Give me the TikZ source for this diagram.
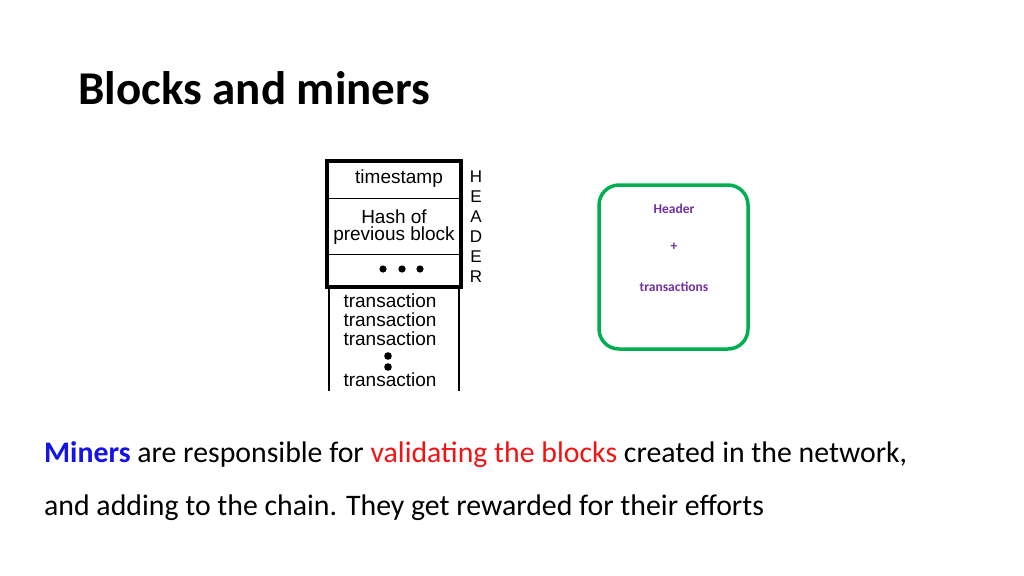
\documentclass[tikz,border=0pt]{standalone}
\usepackage{fontspec}
\setmainfont{Carlito}
\newfontfamily\blk{Liberation Sans}
\definecolor{grn}{RGB}{0,176,80}
\definecolor{purp}{RGB}{112,48,160}
\definecolor{mblue}{RGB}{20,20,230}
\definecolor{mred}{RGB}{240,20,20}
\begin{document}
\begin{tikzpicture}[x=1pt,y=-1pt,
  blocktxt/.style={font=\blk\fontsize{19}{19}\selectfont,inner sep=0pt},
  hdr/.style={font=\blk\fontsize{17}{17}\selectfont,inner sep=0pt},
  ptxt/.style={font=\bfseries\fontsize{13.5}{15}\selectfont,text=purp,inner sep=0pt},
  body/.style={font=\fontsize{29.8}{32}\selectfont,anchor=west,inner sep=0pt}]
\useasboundingbox (0,0) rectangle (1024,575);
\node[anchor=west,inner sep=0pt,font=\bfseries\fontsize{47}{50}\selectfont] (title) at (78,88) {Blocks and miners};
\draw[line width=1.2pt] (329,287) -- (329,391) (459,287) -- (459,391);
\draw[line width=1pt] (327,198) -- (461,198) (327,254) -- (461,254);
\draw[line width=3.5pt] (327,161) rectangle (461,287);
\node[blocktxt] (ts) at (399,179) {timestamp};
\node[blocktxt,align=center] (hash) at (394,227) {Hash of\\[-2pt]previous block};
\foreach \x in {383,402,420} \fill (\x,269) circle (3.6pt);
\node[blocktxt] (t1) at (390,301) {transaction};
\node[blocktxt] (t2) at (390,320) {transaction};
\node[blocktxt] (t3) at (390,339) {transaction};
\fill (388,356) circle (3.8pt) (388,367) circle (3.8pt);
\node[blocktxt] (t4) at (390,380) {transaction};
\foreach \l [count=\i] in {H,E,A,D,E,R} \node[hdr] (h\i) at (476,157+20*\i) {\l};
\draw[grn,line width=3.5pt,rounded corners=20pt] (599,185) rectangle (748,349);
\node[ptxt] (p1) at (674,209) {Header};
\node[ptxt] (p2) at (674,247) {+};
\node[ptxt] (p3) at (674,287) {transactions};
\node[body] (l1) at (44,455) {\textcolor{mblue}{\bfseries Miners} are responsible for \textcolor{mred}{validating the blocks} created in the network,};
\node[body] (l2) at (44,508) {and adding to the chain. They get rewarded for their efforts};
\end{tikzpicture}
\end{document}
